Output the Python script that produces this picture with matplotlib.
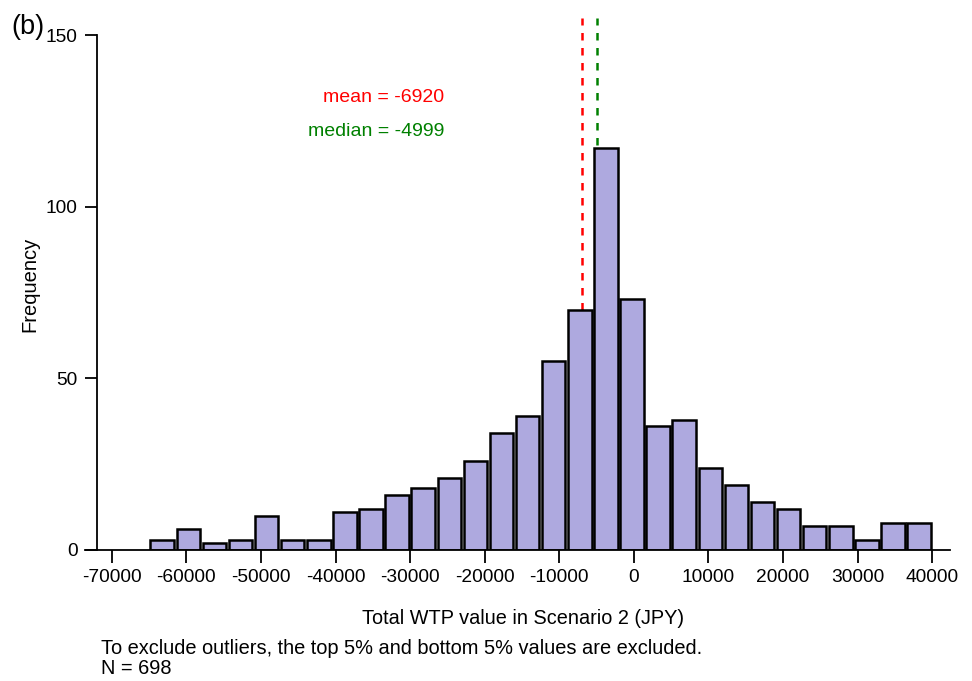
import matplotlib.pyplot as plt
import numpy as np

plt.rcParams['font.family'] = ['Liberation Sans', 'DejaVu Sans']
plt.rcParams['axes.unicode_minus'] = False

# histogram counts, bins of 3500 JPY from -65000 to 40000
bin_start = -65000
bin_width = 3500
counts = [3, 6, 2, 3, 10, 3, 3, 11, 12, 16, 18, 21, 26, 34, 39,
          55, 70, 117, 73, 36, 38, 24, 19, 14, 12, 7, 7, 3, 8, 8]
mean_val = -6920
median_val = -4999
n_obs = 698

edges = bin_start + bin_width * np.arange(len(counts))

fig = plt.figure(figsize=(9.72, 6.81), dpi=100)
ax = fig.add_axes([85 / 972, 1 - 550 / 681, (950 - 85) / 972, (550 - 18) / 681])

ax.axvline(mean_val, color="red", linestyle=(0, (3, 3)), linewidth=1.8, zorder=1)
ax.axvline(median_val, color="green", linestyle=(0, (3, 3)), linewidth=1.8, zorder=1)
ax.bar(edges + bin_width / 2, counts, width=bin_width * 0.9, color="#aea9df",
       edgecolor="black", linewidth=1.8, zorder=2)

ax.set_xlim(-73600, 42400)
ax.set_ylim(0, 155)
ax.spines['top'].set_visible(False)
ax.spines['right'].set_visible(False)
ax.spines['left'].set_position(('data', -72000))
ax.spines['left'].set_bounds(0, 150)
ax.spines['left'].set_linewidth(1.3)
ax.spines['bottom'].set_linewidth(1.3)

ax.set_xticks(np.arange(-70000, 40001, 10000))
ax.set_yticks([0, 50, 100, 150])
ax.tick_params(axis='both', labelsize=13.8, length=9, width=1.3, pad=5)

ax.text(-25450, 131.8, "mean = -6920", color="red", fontsize=14, ha="right", va="center")
ax.text(-25450, 122.0, "median = -4999", color="green", fontsize=14, ha="right", va="center")

fig.text(30 / 972, 1 - 284 / 681, "Frequency", rotation=90, fontsize=14.5, ha="center", va="center")
fig.text(523 / 972, 1 - 619 / 681, "Total WTP value in Scenario 2 (JPY)", fontsize=14.3,
         ha="center", va="center")
fig.text(101 / 972, 1 - 649 / 681,
         "To exclude outliers, the top 5% and bottom 5% values are excluded.",
         fontsize=14.4, ha="left", va="center")
fig.text(101 / 972, 1 - 668 / 681, "N = %d" % n_obs, fontsize=14.4, ha="left", va="center")
fig.text(11 / 972, 1 - 27 / 681, "(b)", fontsize=19.5, ha="left", va="center")

fig.savefig("out.png", dpi=100)
